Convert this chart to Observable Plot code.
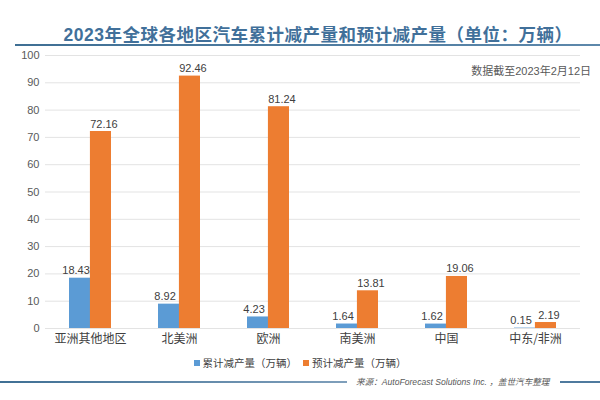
<!DOCTYPE html>
<html>
<head>
<meta charset="utf-8">
<script src="https://cdn.jsdelivr.net/npm/d3@7"></script>
<script src="https://cdn.jsdelivr.net/npm/@observablehq/plot@0.6"></script>
<style>
  html, body { margin: 0; padding: 0; background: #fff; }
  body { width: 600px; height: 400px; position: relative; overflow: hidden;
         font-family: "Liberation Sans", Arial, "Noto Sans CJK SC", sans-serif; }
  #title { position: absolute; left: 0; width: 636px; top: 21px; text-align: center;
           font-size: 17.5px; font-weight: bold; color: #41709a; letter-spacing: 0.5px;
           font-family: "Liberation Sans", "Noto Sans CJK SC", sans-serif; }
  #titleLine { position: absolute; left: 15px; right: 0; top: 44px; height: 2px;
               background: linear-gradient(to right, #3f6f94, #5d88ab); }
  #note { position: absolute; right: 9px; top: 62px; font-size: 11px; color: #595959; }
  #chart { position: absolute; left: 0; top: 50px; }
  #legend { position: absolute; left: 0; width: 600px; top: 355px; text-align: center;
            font-size: 10.5px; color: #404040; font-family: "Noto Sans CJK SC", sans-serif; }
  #legend .item { display: inline-block; margin: 0 3px; }
  #legend .sw { display: inline-block; width: 6px; height: 6px; margin-right: 3px; vertical-align: 1px; }
  #foot { position: absolute; left: 0; right: 0; top: 372px; height: 18px; }
  #foot .l1 { position: absolute; left: 0; width: 347px; top: 9px; height: 1.5px;
              background: linear-gradient(to right, #3f6f94, #7f9fbb); }
  #foot .l2 { position: absolute; left: 560px; right: 0; top: 9px; height: 1.5px; background: #4f7a9e; }
  #foot .src { position: absolute; left: 356px; top: 2.5px; font-size: 8.6px; font-style: italic; color: #595959; }
</style>
</head>
<body>
<div id="title">2023年全球各地区汽车累计减产量和预计减产量（单位：万辆）</div>
<div id="titleLine"></div>
<div id="chart"></div>
<div id="note">数据截至2023年2月12日</div>
<div id="legend"></div>
<div id="foot"><div class="l1"></div><div class="src">来源：AutoForecast Solutions Inc. ，盖世汽车整理</div><div class="l2"></div></div>
<script>
const categories = ["亚洲其他地区", "北美洲", "欧洲", "南美洲", "中国", "中东/非洲"];
const cumulative = [18.43, 8.92, 4.23, 1.64, 1.62, 0.15];
const forecast = [72.16, 92.46, 81.24, 13.81, 19.06, 2.19];
const seriesNames = ["累计减产量（万辆）", "预计减产量（万辆）"];
const seriesColors = ["#5b9bd5", "#ed7d31"];
const yTicks = [0, 10, 20, 30, 40, 50, 60, 70, 80, 90, 100];

const cumData = categories.map((c, i) => ({category: c, value: cumulative[i]}));
const fcData = categories.map((c, i) => ({category: c, value: forecast[i]}));

const bw = 89 * 0.47;
const half = bw / 2;
const labelFont = {fontSize: 11, fill: "#404040", fontFamily: "Liberation Sans, Arial, sans-serif"};

const chart = Plot.plot({
  width: 600,
  height: 300,
  marginLeft: 45,
  marginRight: 20,
  marginTop: 5,
  marginBottom: 22,
  style: {fontFamily: "Liberation Sans, Arial, Noto Sans CJK SC, sans-serif", background: "transparent"},
  x: {domain: categories, paddingInner: 0.53, paddingOuter: 0.265, label: null},
  y: {domain: [0, 100], label: null},
  marks: [
    Plot.ruleY(yTicks, {stroke: "#e3e3e3", strokeWidth: 1}),
    Plot.barY(cumData, {x: "category", y: "value", fill: seriesColors[0], insetRight: half}),
    Plot.barY(fcData, {x: "category", y: "value", fill: seriesColors[1], insetLeft: half}),
    Plot.text(cumData, {x: "category", y: "value", text: d => d.value.toFixed(2), dx: -half / 2 - 4, dy: -4, lineAnchor: "bottom", ...labelFont}),
    Plot.text(fcData, {x: "category", y: "value", text: d => d.value.toFixed(2), dx: half / 2 + 3, dy: -4, lineAnchor: "bottom", ...labelFont}),
    Plot.axisY({ticks: yTicks, tickSize: 0, tickPadding: 6, fontSize: 11, color: "#595959", label: null}),
    Plot.axisX({tickSize: 0, tickPadding: 6, fontSize: 12, color: "#404040", label: null, fontFamily: "Noto Sans CJK SC, sans-serif"})
  ]
});
document.getElementById("chart").appendChild(chart);

const legend = document.getElementById("legend");
seriesNames.forEach((name, i) => {
  const item = document.createElement("span");
  item.className = "item";
  const sw = document.createElement("span");
  sw.className = "sw";
  sw.style.background = seriesColors[i];
  item.appendChild(sw);
  item.appendChild(document.createTextNode(name));
  legend.appendChild(item);
});
</script>
</body>
</html>
